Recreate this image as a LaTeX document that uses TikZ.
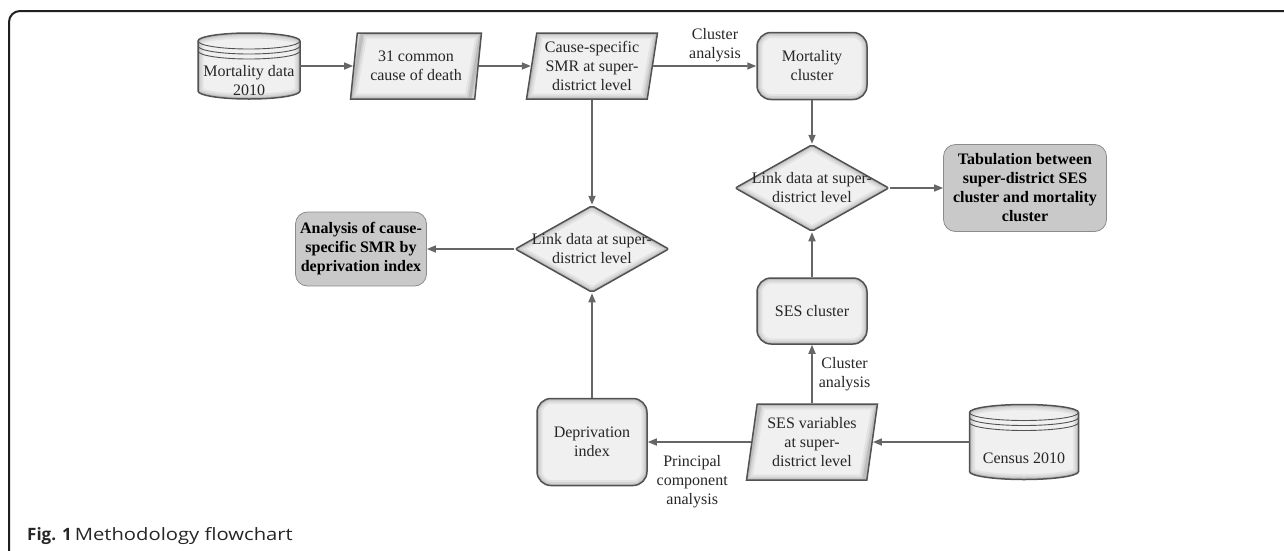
\documentclass[tikz,border=0pt]{standalone}
\usepackage{fontspec}
\setmainfont{Liberation Serif}
\newfontfamily\capfont{Open Sans}
\newfontfamily\capwide[FakeStretch=1.19]{Open Sans}
\usetikzlibrary{shapes.geometric,arrows.meta,calc,backgrounds}
\newcommand\dfont{\fontsize{16}{19}\selectfont}
\newcommand\cylpath[2]{($(#1.north west)+(0,8)$) -- ($(#1.south west)+(0,-8)$) arc[start angle=180,end angle=360,x radius=#2pt,y radius=8pt] -- ($(#1.north east)+(0,8)$) arc[start angle=0,end angle=180,x radius=#2pt,y radius=8pt] -- cycle}
\newcommand\dbcyl[2]{%
  \begin{pgfonlayer}{background}
    \fill[gray!12] \cylpath{#1}{#2};
    \begin{scope}
      \clip \cylpath{#1}{#2};
      \draw[line width=11pt,gray!22] \cylpath{#1}{#2};
      \draw[line width=7pt,gray!34] \cylpath{#1}{#2};
      \draw[line width=3.5pt,gray!52] \cylpath{#1}{#2};
    \end{scope}
    \draw[nborder] \cylpath{#1}{#2};
    \foreach \k in {8,13,18}
      \draw[nborder,line width=0.9pt] ($(#1.north west)+(0,\k)$) arc[start angle=180,end angle=360,x radius=#2pt,y radius=8pt];
  \end{pgfonlayer}}
\tikzset{
  nborder/.style={draw=black!68,line width=1.5pt},
  dtext/.style={font=\dfont,align=center,text=black!85},
  rbox/.style={rectangle,rounded corners=14pt,nborder,fill=gray!12,
    minimum width=110pt,minimum height=67pt,inner sep=0pt,dtext,
    path picture={\foreach \w/\c in {11/22,7/34,3.5/52}{\draw[line width=\w pt,gray!\c,rounded corners=14pt]
      (path picture bounding box.south west) rectangle (path picture bounding box.north east);}}},
  para/.style={trapezium,trapezium left angle=80,trapezium right angle=100,trapezium stretches=true,
    nborder,fill=gray!12,minimum width=131pt,minimum height=66pt,inner sep=0pt,dtext,
    path picture={\foreach \w/\c in {11/22,7/34,3.5/52}{\draw[line width=\w pt,gray!\c]
      let \p1=(path picture bounding box.south west), \p2=(path picture bounding box.north east),
      \n1={0.1763*(\y2-\y1)} in
      (\x1,\y1) -- ({\x2-\n1*1pt},\y1) -- (\x2,\y2) -- ({\x1+\n1*1pt},\y2) -- cycle;}}},
  dia/.style={diamond,nborder,fill=gray!12,minimum width=154pt,minimum height=87pt,inner sep=0pt,
    rounded corners=2pt,
    path picture={\foreach \w/\c in {11/22,7/34,3.5/52}{\draw[line width=\w pt,gray!\c]
      (path picture bounding box.north) -- (path picture bounding box.east) --
      (path picture bounding box.south) -- (path picture bounding box.west) -- cycle;}}},
  gbox/.style={rectangle,rounded corners=12pt,draw=gray!90,line width=0.8pt,fill=gray!42,
    inner sep=0pt,font=\dfont\bfseries,align=center,text=black},
  cyl/.style={rectangle,inner sep=0pt,outer sep=0pt,draw=none},
  arr/.style={draw=black!60,line width=1.6pt,-{Triangle[length=9pt,width=7pt]}},
  lbl/.style={font=\dfont,align=center,text=black!85,inner sep=3pt},
}
\begin{document}
\begin{tikzpicture}[x=1pt,y=-1pt]
\useasboundingbox (0,0) rectangle (1284,550);
\draw[line width=2pt,black!88,rounded corners=11pt] (9,552) -- (9,11) -- (1286,11);

\node[cyl,minimum width=102pt,minimum height=66pt,
  label={[dtext,yshift=-15pt]center:{Mortality data\\2010}}] (md) at (249,66) {};
\dbcyl{md}{51}
\node[para] (cc) at (416,66) {31 common\\cause of death};
\node[para] (cs) at (592,66) {Cause-specific\\SMR at super-\\district level};
\node[rbox] (mc) at (812,66) {Mortality\\cluster};
\node[dia,label={[dtext]center:{Link data at super-\\district level}}] (ld2) at (812,188) {};
\node[gbox,minimum width=163pt,minimum height=87pt] (tab) at (1025,188)
  {Tabulation between\\super-district SES\\cluster and mortality\\cluster};
\node[dia,label={[dtext]center:{Link data at super-\\district level}}] (ld1) at (592,249) {};
\node[gbox,minimum width=131pt,minimum height=74pt] (an) at (361,249)
  {Analysis of cause-\\specific SMR by\\deprivation index};
\node[rbox,minimum height=66pt] (sc) at (812,311) {SES cluster};
\node[rbox,minimum height=87pt] (di) at (592,442) {Deprivation\\index};
\node[para,minimum height=76pt] (sv) at (812,442) {SES variables\\at super-\\district level};
\node[cyl,minimum width=109pt,minimum height=75pt,
  label={[dtext,yshift=-16pt]center:{Census 2010}}] (ce) at (1024,442) {};
\dbcyl{ce}{54.5}

\draw[arr] (md) -- (cc);
\draw[arr] (cc) -- (cs);
\draw[arr] (cs) -- node[lbl,above,pos=0.6] {Cluster\\analysis} (mc);
\draw[arr] (mc) -- (ld2);
\draw[arr] (ld2) -- (tab);
\draw[arr] (cs) -- (ld1);
\draw[arr] (ld1) -- (an);
\draw[arr] (sc) -- (ld2);
\draw[arr] (di) -- (ld1);
\draw[arr] (sv) -- node[lbl,right,pos=0.5,xshift=3pt] {Cluster\\analysis} (sc);
\draw[arr] (sv) -- node[lbl,below,pos=0.57,yshift=-10pt] {Principal\\component\\analysis} (di);
\draw[arr] (ce) -- (sv);

\node[anchor=base west,font=\capfont\fontsize{17}{20}\selectfont,text=black!85,inner sep=0pt]
  (cap) at (27,540) {\textbf{Fig. 1}\hspace{3pt}{\capwide Methodology flowchart}};
\end{tikzpicture}
\end{document}
